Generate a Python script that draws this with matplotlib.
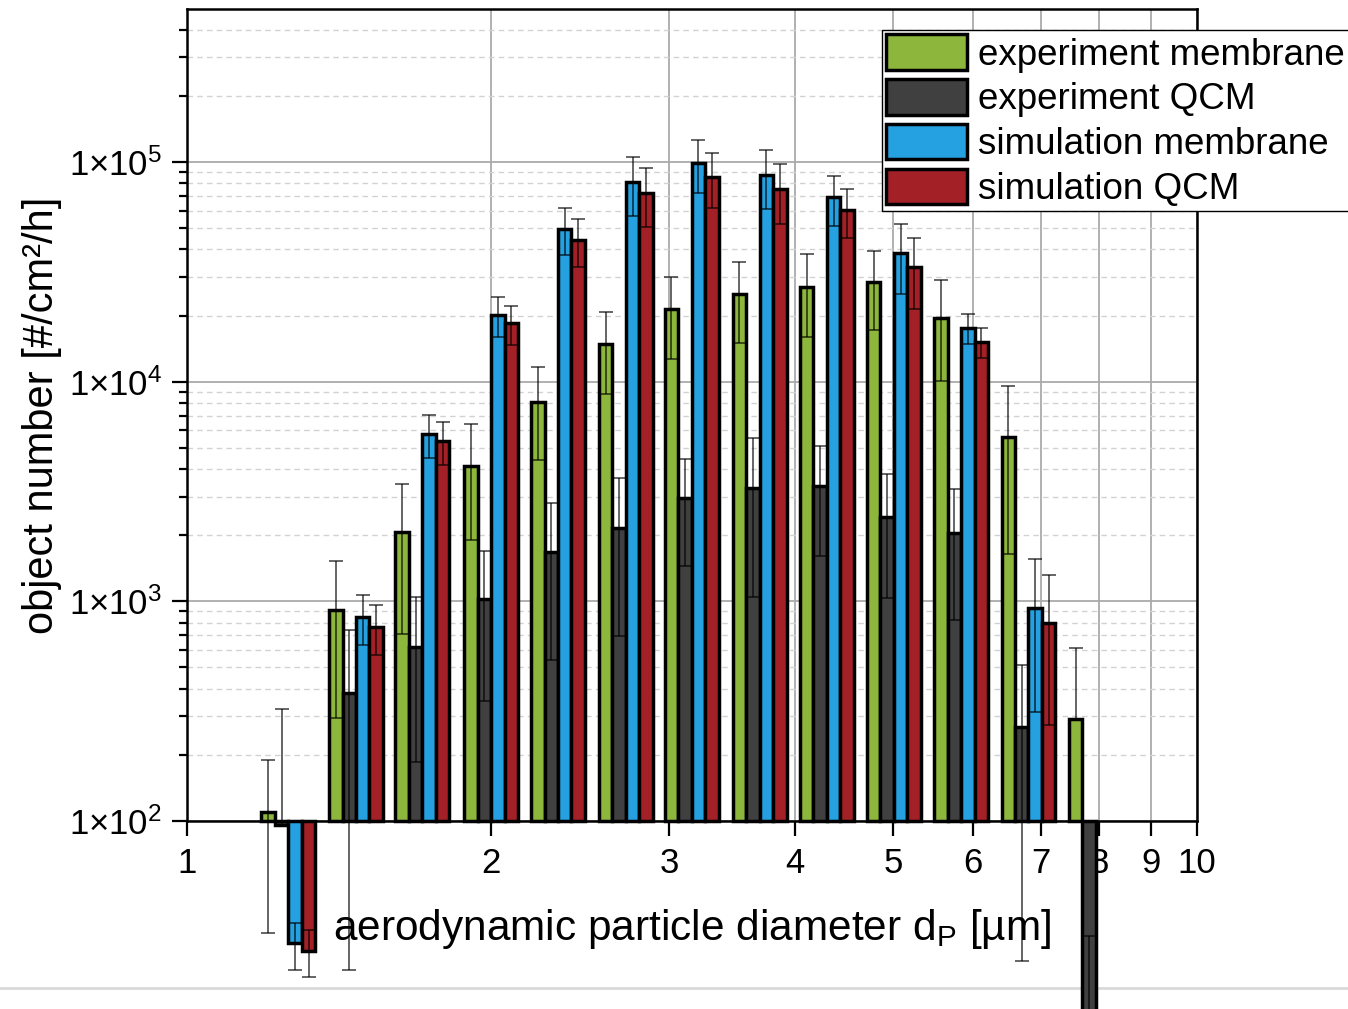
import numpy as np
import matplotlib
matplotlib.use("Agg")
import matplotlib.pyplot as plt
from matplotlib.patches import Patch
from matplotlib.lines import Line2D
from matplotlib.ticker import FixedLocator, NullLocator, LogLocator, FuncFormatter

plt.rcParams['font.family'] = ['Liberation Sans', 'DejaVu Sans']
plt.rcParams['mathtext.fontset'] = 'custom'
plt.rcParams['mathtext.rm'] = 'Liberation Sans'
plt.rcParams['mathtext.it'] = 'Liberation Sans:italic'
plt.rcParams['mathtext.default'] = 'regular'

# bin centres of the aerodynamic diameter classes (um), 15 classes per decade
diam = [1.26, 1.47, 1.71, 2.00, 2.33, 2.72, 3.16, 3.69, 4.30, 5.01, 5.84, 6.81, 7.94]

# object number [#/cm2/h] and error
exp_membrane = [110, 914, 2070, 4150, 8050, 14800, 21400, 25000, 27000, 28300, 19550, 5600, 290]
exp_membrane_err = [79, 620, 1360, 2240, 3650, 6050, 8700, 10000, 11000, 11200, 9500, 3960, 320]
exp_qcm = [96, 381, 618, 1020, 1671, 2163, 2945, 3290, 3360, 2410, 2040, 268, 6]
exp_qcm_err = [226, 360, 433, 670, 1130, 1470, 1500, 2240, 1750, 1370, 1220, 245, 24]
sim_membrane = [27.7, 851, 5755, 20100, 49550, 81300, 98900, 87300, 69000, 38600, 17600, 933, np.nan]
sim_membrane_err = [6.8, 221, 1270, 4200, 12000, 24500, 27000, 26000, 17700, 13600, 2700, 620, np.nan]
sim_qcm = [25.6, 767, 5380, 18450, 44200, 72400, 85500, 75300, 60300, 33300, 15200, 794, np.nan]
sim_qcm_err = [6.2, 200, 1200, 3700, 11000, 21700, 24000, 23000, 15300, 11800, 2400, 521, np.nan]

labels = ['experiment membrane', 'experiment QCM', 'simulation membrane', 'simulation QCM']
colors = ['#8db63c', '#404040', '#25a0e0', '#a32126']
series = [(exp_membrane, exp_membrane_err), (exp_qcm, exp_qcm_err),
          (sim_membrane, sim_membrane_err), (sim_qcm, sim_qcm_err)]

W, H = 1348, 1009
fig = plt.figure(figsize=(W / 100, H / 100), dpi=100)
ax = fig.add_axes([187 / W, 1 - 821 / H, (1197 - 187) / W, (821 - 9) / H])
ax.set_xscale('log')
ax.set_yscale('log')
base = 100

# bar geometry in log space
step = 1 / 15.
logc = np.log10(diam)
for i, ((vals, errs), col) in enumerate(zip(series, colors)):
    vals = np.array(vals, dtype=float)
    errs = np.array(errs, dtype=float)
    lo_edge = 10 ** (logc - 0.4 * step + i * 0.2 * step)
    hi_edge = 10 ** (logc - 0.4 * step + (i + 1) * 0.2 * step)
    mid = 10 ** (logc - 0.4 * step + (i + 0.5) * 0.2 * step)
    ok = ~np.isnan(vals)
    ax.bar(lo_edge[ok], vals[ok] - base, width=(hi_edge - lo_edge)[ok], bottom=base,
           align='edge', color=col, edgecolor='k', linewidth=2.5, zorder=3, clip_on=False)
    lower = np.where(vals - errs > 0, errs, 0)
    eb = ax.errorbar(mid[ok], vals[ok], yerr=[lower[ok], errs[ok]], fmt='none',
                     ecolor='k', alpha=0.65, elinewidth=1.3, capsize=5.3, capthick=1.3,
                     zorder=4)
    for art in list(eb.lines[1]) + list(eb.lines[2]):
        art.set_clip_on(False)

ax.set_xlim(1, 10)
ax.set_ylim(100, 4.97e5)
ax.xaxis.set_major_locator(FixedLocator(range(1, 11)))
ax.set_xticklabels([str(v) for v in range(1, 11)])
ax.xaxis.set_minor_locator(NullLocator())
ax.yaxis.set_major_locator(LogLocator(base=10))
ax.yaxis.set_minor_locator(LogLocator(base=10, subs=np.arange(2, 10)))
ax.yaxis.set_minor_formatter(FuncFormatter(lambda v, p: ''))
ax.yaxis.set_major_formatter(FuncFormatter(lambda v, p: r'$1{\times}10^{%d}$' % round(np.log10(v))))

ax.tick_params(axis='both', which='major', direction='out', length=11, width=1.6,
               labelsize=25, color='k')
ax.tick_params(axis='x', which='major', pad=8)
ax.tick_params(axis='y', which='major', pad=7)
ax.tick_params(axis='y', which='minor', direction='out', length=6, width=1.6)
ax.tick_params(top=False, right=False)
for sp in ax.spines.values():
    sp.set_linewidth(1.8)

ax.grid(which='major', axis='both', color='#aaaaaa', linewidth=1.3, linestyle='-')
ax.grid(which='minor', axis='y', color='#d2d2d2', linewidth=1.0, linestyle=(0, (4, 3)))

ax.set_xlabel('aerodynamic particle diameter d$_{P}$ [µm]', fontsize=30.5)
ax.xaxis.set_label_coords(0.5, -0.106)
ax.set_ylabel('object number [#/cm²/h]', fontsize=30)
ax.yaxis.set_label_coords(-0.124, 0.5)

handles = [Patch(facecolor=c, edgecolor='k', linewidth=2.5) for c in colors]
leg = ax.legend(handles, labels, loc='upper left', bbox_to_anchor=(882 / W, 1 - 30 / H),
                bbox_transform=fig.transFigure, borderaxespad=0, fontsize=26.5,
                handlelength=2.2, handleheight=1.1, labelspacing=0.18, borderpad=0.12,
                handletextpad=0.28, fancybox=False, edgecolor='k', framealpha=1)
leg.get_frame().set_linewidth(1.0)
leg.set_zorder(6)

# thin page line at the bottom
fig.add_artist(Line2D([0, 1], [1 - 988 / H] * 2, transform=fig.transFigure,
                      color='#d9d9d9', linewidth=2, zorder=-1))

fig.savefig('out.png', dpi=100)
